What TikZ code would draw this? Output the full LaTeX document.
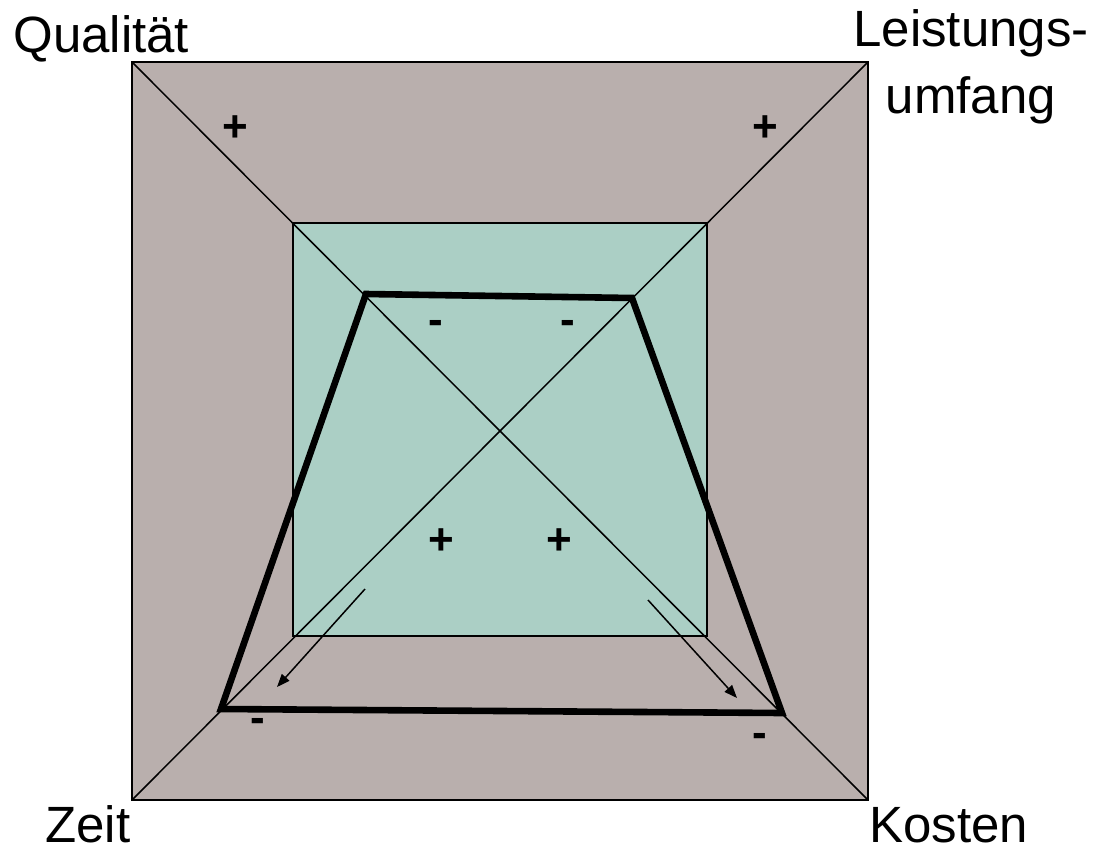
\documentclass[tikz,border=0pt]{standalone}
\usepackage{fontspec}
\setmainfont{Liberation Sans}
\usetikzlibrary{arrows.meta, calc}
\definecolor{outerfill}{RGB}{185,175,173}
\definecolor{innerfill}{RGB}{171,207,197}
\tikzstyle{corner} = [inner sep=0pt, font=\fontsize{25.5}{33.5}\selectfont]
\tikzstyle{sign} = [inner sep=0pt, font=\fontsize{22}{24}\selectfont\bfseries]
\tikzstyle{frame} = [draw=black, line width=1pt]
\tikzstyle{diag} = [draw=black, line width=0.75pt]
\tikzstyle{arrow} = [line width=0.75pt, -{Triangle[length=6.5pt,width=5pt]}]

\begin{document}
\begin{tikzpicture}[x=0.5pt, y=-0.5pt]
  \useasboundingbox (0,0) rectangle (1094,853);
  % Squares
  \coordinate (otl) at (132,62);
  \coordinate (otr) at (868,62);
  \coordinate (obl) at (132,800);
  \coordinate (obr) at (868,800);
  \coordinate (itl) at (293,223);
  \coordinate (ibr) at (707,636);
  \fill[outerfill] (otl) rectangle (obr);
  \fill[innerfill] (itl) rectangle (ibr);
  \draw[frame] (itl) rectangle (ibr);
  \draw[frame] (otl) rectangle (obr);
  \draw[diag] (otl) -- (obr);
  \draw[diag] (otr) -- (obl);

  % Corner labels
  \node[corner, anchor=base west] (qual) at (13,52) {Qualität};
  \node[corner, anchor=base, align=center] (leist) at (971,113) {Leistungs-\\umfang};
  \node[corner, anchor=base west] (zeit) at (45,842) {Zeit};
  \node[corner, anchor=base west] (kosten) at (869,842) {Kosten};

  % Project shape
  \coordinate (pq) at (366,294);
  \coordinate (pl) at (632,298);
  \coordinate (pk) at (782,713);
  \coordinate (pz) at (221,709);
  \draw[line width=3.3pt, line join=miter] (pq) -- (pl) -- (pk) -- (pz) -- cycle;

  % Signs
  \node[sign] (p1) at (235,129) {+};
  \node[sign] (p2) at (765,129) {+};
  \node[sign] (p3) at (441,542) {+};
  \node[sign] (p4) at (559,542) {+};
  \node[sign] (m1) at (436,327) {-};
  \node[sign] (m2) at (568,327) {-};
  \node[sign] (m3) at (258,725) {-};
  \node[sign] (m4) at (760,740) {-};

  % Arrows
  \coordinate (a1) at (365,589);
  \coordinate (a2) at (277,687);
  \coordinate (b1) at (648,600);
  \coordinate (b2) at (737,698);
  \draw[arrow] (a1) -- (a2);
  \draw[arrow] (b1) -- (b2);
\end{tikzpicture}
\end{document}
